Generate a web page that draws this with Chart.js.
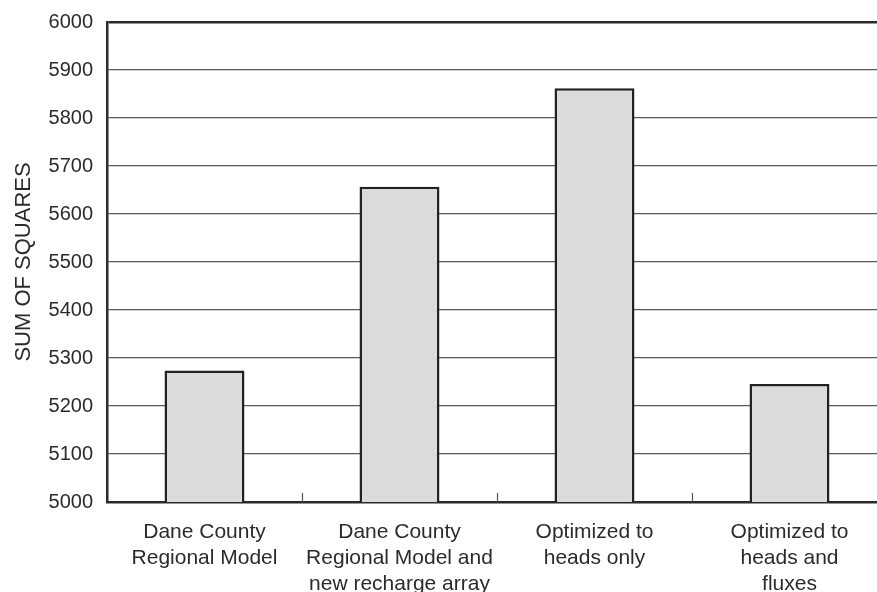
<!DOCTYPE html>
<html>
<head>
<meta charset="utf-8">
<script src="https://cdn.jsdelivr.net/npm/chart.js@4.4.1/dist/chart.umd.min.js"></script>
<style>
  html, body { margin: 0; padding: 0; background: #fff; overflow: hidden; }
  #chart { display: block; }
</style>
</head>
<body>
<canvas id="chart" width="887" height="592"></canvas>
<script>
// Datos
const categories = [
    ['Dane County', 'Regional Model'],
    ['Dane County', 'Regional Model and', 'new recharge array'],
    ['Optimized to', 'heads only'],
    ['Optimized to', 'heads and', 'fluxes']
];
const sumOfSquares = [5274, 5657, 5862, 5246];
const yTicks = [5000, 5100, 5200, 5300, 5400, 5500, 5600, 5700, 5800, 5900, 6000];

const FONT = "'Liberation Sans', Arial, sans-serif";
const TEXT = '#2b2b2b';

// marcas cortas hacia dentro entre categorías
const innerTicks = {
    id: 'innerTicks',
    afterDatasetsDraw(chart) {
        const x = chart.scales.x;
        const bottom = chart.chartArea.bottom;
        const ctx = chart.ctx;
        ctx.save();
        ctx.strokeStyle = '#555';
        ctx.lineWidth = 1.2;
        for (let i = 0; i < categories.length - 1; i++) {
            const px = Math.round((x.getPixelForValue(i) + x.getPixelForValue(i + 1)) / 2) + 0.5;
            ctx.beginPath();
            ctx.moveTo(px, bottom);
            ctx.lineTo(px, bottom - 9);
            ctx.stroke();
        }
        ctx.restore();
    }
};

new Chart(document.getElementById('chart'), {
    type: 'bar',
    data: {
        labels: categories,
        datasets: [{
            data: sumOfSquares,
            backgroundColor: '#dadbdd',
            borderColor: '#222',
            borderWidth: 2.5,
            barPercentage: 0.41,
            categoryPercentage: 1
        }]
    },
    options: {
        responsive: false,
        animation: false,
        layout: { padding: { top: 22, left: 0, right: 0, bottom: 0 } },
        plugins: {
            legend: { display: false },
            tooltip: { enabled: false }
        },
        scales: {
            x: {
                offset: true,
                afterFit: s => { s.height = 90; },
                grid: { display: false, drawTicks: false },
                border: { display: true, color: '#2b2b2b', width: 2.5 },
                ticks: {
                    color: TEXT,
                    padding: 17,
                    maxRotation: 0,
                    autoSkip: false,
                    font: { family: FONT, size: 21, lineHeight: 1.25 }
                }
            },
            y: {
                min: 5000,
                max: 6000,
                afterFit: s => { s.width = 107; s.paddingTop = 0; s.paddingBottom = 0; },
                afterBuildTicks: s => { s.ticks = yTicks.map(v => ({ value: v })); },
                grid: {
                    drawTicks: false,
                    color: c => c.tick && c.tick.value === 6000 ? '#2b2b2b' : '#5a5a5a',
                    lineWidth: c => c.tick && c.tick.value === 6000 ? 2.5 : 1.3
                },
                border: { display: true, color: '#2b2b2b', width: 2.5 },
                ticks: {
                    color: TEXT,
                    padding: 14,
                    callback: v => String(v),
                    font: { family: FONT, size: 20 }
                },
                title: {
                    display: true,
                    text: 'SUM OF SQUARES',
                    color: TEXT,
                    padding: { top: 11, bottom: 0 },
                    font: { family: FONT, size: 22, lineHeight: 1.2 }
                }
            }
        }
    },
    plugins: [innerTicks]
});
</script>
</body>
</html>
